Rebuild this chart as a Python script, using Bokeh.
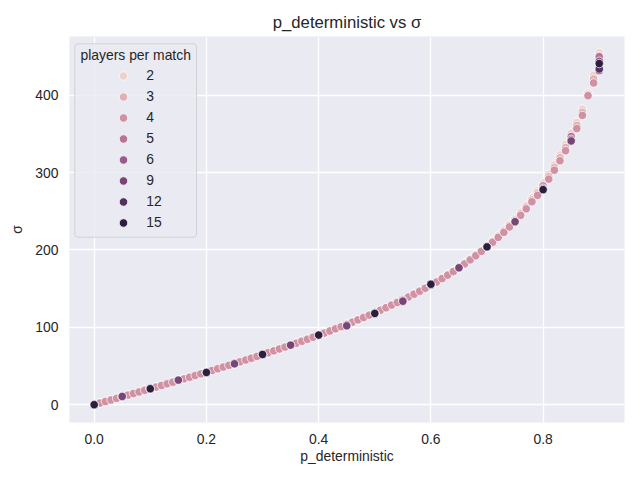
import math
from bokeh.plotting import figure
from bokeh.models import Legend, LegendItem, FixedTicker, Range1d, BoxAnnotation, Label
from bokeh.embed import file_html
from bokeh.resources import INLINE

# players per match (hue) and the p_deterministic grids they were run on
players = [2, 3, 4, 5, 6, 9, 12, 15]

p_fine = [
    0.00, 0.01, 0.02, 0.03, 0.04, 0.05, 0.06, 0.07, 0.08, 0.09,
    0.10, 0.11, 0.12, 0.13, 0.14, 0.15, 0.16, 0.17, 0.18, 0.19,
    0.20, 0.21, 0.22, 0.23, 0.24, 0.25, 0.26, 0.27, 0.28, 0.29,
    0.30, 0.31, 0.32, 0.33, 0.34, 0.35, 0.36, 0.37, 0.38, 0.39,
    0.40, 0.41, 0.42, 0.43, 0.44, 0.45, 0.46, 0.47, 0.48, 0.49,
    0.50, 0.51, 0.52, 0.53, 0.54, 0.55, 0.56, 0.57, 0.58, 0.59,
    0.60, 0.61, 0.62, 0.63, 0.64, 0.65, 0.66, 0.67, 0.68, 0.69,
    0.70, 0.71, 0.72, 0.73, 0.74, 0.75, 0.76, 0.77, 0.78, 0.79,
    0.80, 0.81, 0.82, 0.83, 0.84, 0.85, 0.86, 0.87, 0.88, 0.89,
    0.90,
]
p_mid = [0.00, 0.05, 0.10, 0.15, 0.20, 0.25, 0.30, 0.35, 0.40, 0.45,
         0.50, 0.55, 0.60, 0.65, 0.70, 0.75, 0.80, 0.85, 0.90]
p_coarse = [0.0, 0.1, 0.2, 0.3, 0.4, 0.5, 0.6, 0.7, 0.8, 0.9]

# sigma for p = 0.00 .. 0.59, the 2, 3 and 4 player runs sit on top of each other there
sigma_low = [
    0.0, 2.1, 4.1, 6.2, 8.2, 10.3, 12.4, 14.5, 16.5, 18.6,
    20.7, 22.8, 24.9, 27.0, 29.1, 31.3, 33.4, 35.5, 37.7, 39.9,
    42.0, 44.2, 46.5, 48.7, 50.9, 53.2, 55.5, 57.8, 60.1, 62.4,
    64.8, 67.2, 69.6, 72.0, 74.5, 77.0, 79.5, 82.0, 84.6, 87.3,
    89.9, 92.6, 95.3, 98.1, 100.9, 103.8, 106.7, 109.7, 112.7, 115.8,
    118.9, 122.1, 125.4, 128.8, 132.2, 135.7, 139.2, 142.9, 146.7, 150.5,
]
# p = 0.60 .. 0.90
sigma_2_high = [155.3, 159.5, 163.9, 168.5, 173.2, 178.2, 183.3, 188.7, 194.2, 200.0,
                206.0, 212.3, 218.9, 225.8, 233.2, 240.8, 249.0, 257.7, 267.2, 276.5,
                286.4, 298.0, 310.0, 323.0, 336.6, 351.0, 365.0, 382.0, 403.0, 426.0,
                455.0]
sigma_3_high = [154.9, 159.0, 163.4, 168.0, 172.6, 177.6, 182.6, 187.9, 193.4, 199.1,
                205.0, 211.1, 217.6, 224.3, 231.5, 238.9, 246.9, 255.4, 264.8, 273.6,
                283.2, 294.8, 306.6, 319.2, 332.5, 346.5, 361.0, 378.0, 401.0, 421.0,
                451.0]
sigma_4_high = [154.5, 158.6, 163.0, 167.5, 172.1, 177.0, 182.0, 187.2, 192.6, 198.2,
                204.0, 210.0, 216.3, 222.8, 229.8, 237.0, 244.8, 253.2, 262.4, 270.6,
                280.0, 291.6, 303.2, 315.4, 328.4, 342.0, 357.0, 374.0, 399.5, 416.0,
                448.0]
sigma_2 = sigma_low + sigma_2_high
sigma_3 = sigma_low + sigma_3_high
sigma_4 = sigma_low + sigma_4_high

sigma_5 = [0.0, 10.3, 20.7, 31.3, 42.0, 53.2, 64.8, 77.0, 89.9, 103.8,
           118.9, 135.7, 154.5, 177.1, 204.3, 238.1, 282.7, 346.7, 450.0]
sigma_6 = [0.0, 10.5, 20.8, 31.5, 41.9, 53.0, 64.9, 77.1, 90.0, 103.2,
           118.5, 134.8, 155.0, 177.0, 204.0, 237.0, 280.0, 343.0, 444.0]
sigma_9 = [0.0, 10.7, 20.6, 31.8, 41.7, 52.9, 65.0, 77.0, 90.0, 102.0,
           118.0, 133.8, 155.7, 177.0, 204.0, 236.5, 278.0, 341.0, 432.0]
sigma_12 = [0.0, 20.7, 41.9, 64.9, 90.1, 118.5, 155.0, 204.5, 279.0, 434.0]
sigma_15 = [0.0, 20.6, 41.7, 65.0, 90.0, 118.0, 155.7, 204.0, 278.0, 441.0]

series = {
    2: (p_fine, sigma_2),
    3: (p_fine, sigma_3),
    4: (p_fine, sigma_4),
    5: (p_mid, sigma_5),
    6: (p_mid, sigma_6),
    9: (p_mid, sigma_9),
    12: (p_coarse, sigma_12),
    15: (p_coarse, sigma_15),
}

x_ticks = [0.0, 0.2, 0.4, 0.6, 0.8]
x_tick_labels = ["0.0", "0.2", "0.4", "0.6", "0.8"]
y_ticks = [0, 100, 200, 300, 400]


def hue_color(i, n):
    # seaborn cubehelix_palette(n): light=.85 .. dark=.15, rot=.4, hue=.8
    x = 0.85 + (0.15 - 0.85) * i / (n - 1)
    a = 0.8 * x * (1 - x) / 2
    phi = 2 * math.pi * (0.4 * x)
    r = x + a * (-0.14861 * math.cos(phi) + 1.78277 * math.sin(phi))
    g = x + a * (-0.29227 * math.cos(phi) - 0.90649 * math.sin(phi))
    b = x + a * (1.97294 * math.cos(phi))
    return "#%02x%02x%02x" % tuple(int(round(min(max(c, 0), 1) * 255)) for c in (r, g, b))


FONT = "Liberation Sans"
TEXT = "#262626"

p = figure(width=640, height=480, output_backend="svg", toolbar_location=None,
           x_range=Range1d(-0.044, 0.945), y_range=Range1d(-23, 476),
           min_border_left=69, min_border_right=16, min_border_top=36, min_border_bottom=58)
p.background_fill_color = "#EAEAF2"
p.border_fill_color = "white"
p.outline_line_color = None

p.title.text = "p_deterministic vs σ"
p.title.align = "center"
p.title.text_font = FONT
p.title.text_font_size = "16.7px"
p.title.text_font_style = "normal"
p.title.text_color = TEXT
p.title.standoff = 10

p.grid.grid_line_color = "white"
p.grid.grid_line_width = 1.3
p.xaxis.ticker = FixedTicker(ticks=x_ticks)
p.xaxis.major_label_overrides = dict(zip(x_ticks, x_tick_labels))
p.yaxis.ticker = FixedTicker(ticks=y_ticks)
p.xaxis.axis_label = "p_deterministic"
p.yaxis.axis_label = "σ"
for ax in (p.xaxis, p.yaxis):
    ax.axis_line_color = None
    ax.major_tick_line_color = None
    ax.minor_tick_line_color = None
    ax.major_tick_out = 0
    ax.major_tick_in = 0
    ax.minor_tick_out = 0
    ax.minor_tick_in = 0
    ax.major_label_text_font = FONT
    ax.major_label_text_font_size = "13.9px"
    ax.major_label_text_color = TEXT
    ax.major_label_standoff = 11
    ax.axis_label_text_font = FONT
    ax.axis_label_text_font_size = "13.9px"
    ax.axis_label_text_font_style = "normal"
    ax.axis_label_text_color = TEXT
p.xaxis.axis_label_standoff = 1
p.yaxis.axis_label_standoff = 7

items = []
for i, n in enumerate(players):
    xs, ys = series[n]
    r = p.scatter(xs, ys, marker="circle", size=8.4, fill_color=hue_color(i, len(players)),
                  line_color="white", line_width=0.7)
    items.append(LegendItem(label=str(n), renderers=[r]))

# legend frame and centred title, drawn like matplotlib's
frame = BoxAnnotation(left=5.3, right=127, bottom=185.3, top=378.7,
                      left_units="screen", right_units="screen",
                      bottom_units="screen", top_units="screen",
                      fill_color="#EAEAF2", fill_alpha=0.8,
                      line_color="#cccccc", line_alpha=0.8, line_width=1,
                      border_radius=3)
p.add_layout(frame)
p.add_layout(Label(x=11, y=368, x_units="screen", y_units="screen",
                   text="players per match", text_font=FONT, text_font_size="13.9px",
                   text_color=TEXT, text_baseline="middle"))

legend = Legend(items=items, location=(34.3, 189.5))
legend.label_text_font = FONT
legend.label_text_font_size = "13.9px"
legend.label_text_color = TEXT
legend.glyph_width = 40
legend.glyph_height = 21
legend.label_height = 21
legend.label_standoff = 3
legend.spacing = 0
legend.padding = 0
legend.margin = 0
legend.background_fill_alpha = 0
legend.border_line_color = None
p.add_layout(legend)

open("out.html", "w").write(file_html(p, INLINE))
